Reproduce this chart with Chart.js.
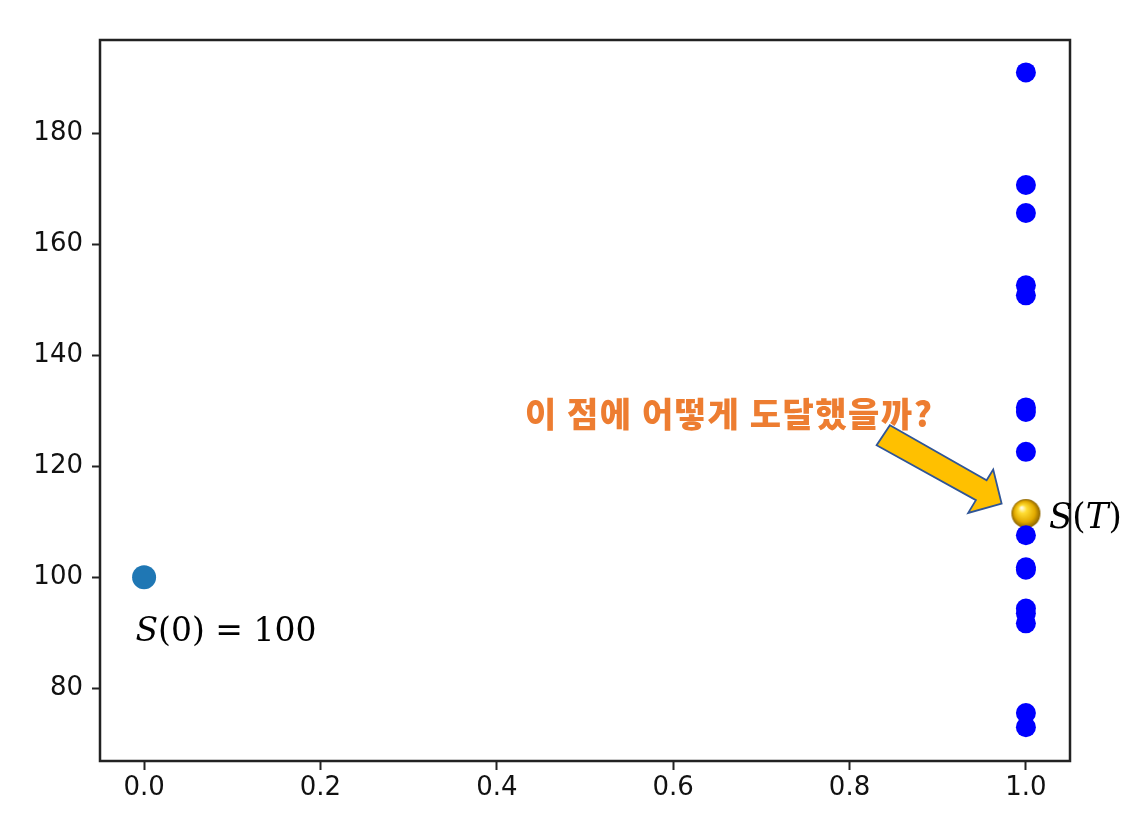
<!DOCTYPE html>
<html>
<head>
<meta charset="utf-8">
<script src="https://cdn.jsdelivr.net/npm/chart.js@4.4.1/dist/chart.umd.min.js"></script>
<style>
  body { margin: 0; background: #fff; }
  #wrap { width: 1146px; height: 821px; }
</style>
</head>
<body>
<div id="wrap"><canvas id="myChart" width="1146" height="821"></canvas></div>
<script>
// data
const startTimes = [0]
const startPrices = [100]
const endTimes = [1, 1, 1, 1, 1, 1, 1, 1, 1, 1, 1, 1, 1, 1, 1, 1]
const endPrices = [190.96, 170.68, 165.63, 152.6, 150.8, 130.6, 129.8, 122.6, 107.58, 101.81, 101.36, 94.37, 93.5, 91.7, 75.55, 73.0]
const pickedTimes = [1]
const pickedPrices = [111.49]
const xTicks = [0, 0.2, 0.4, 0.6, 0.8, 1.0]
const yTicks = [80, 100, 120, 140, 160, 180]
const question = '이 점에 어떻게 도달했을까?'

function toPoints(xs, ys) {
    return xs.map((x, i) => ({x: x, y: ys[i]}))
}

function makeSphere(r) {
    let c = document.createElement('canvas')
    c.width = c.height = r * 2 + 2
    let g = c.getContext('2d')
    let cx = r + 1, cy = r + 1
    let grad = g.createRadialGradient(cx - r * 0.3, cy - r * 0.4, r * 0.05, cx, cy, r)
    grad.addColorStop(0, '#fffbe0')
    grad.addColorStop(0.25, '#ffdd33')
    grad.addColorStop(0.7, '#e2aa00')
    grad.addColorStop(1, '#8a6200')
    g.fillStyle = grad
    g.beginPath()
    g.arc(cx, cy, r, 0, Math.PI * 2)
    g.fill()
    return c
}

// math-looking label: italic S, upright rest, fitted to a target width
function drawMath(ctx, parts, x, y, size, width) {
    ctx.save()
    let fonts = parts.map(p => (p.it ? 'italic ' : '') + size + 'px "DejaVu Serif", serif')
    let total = 0
    parts.forEach((p, i) => { ctx.font = fonts[i]; total += ctx.measureText(p.t).width })
    ctx.translate(x, y)
    ctx.scale(width / total, 1)
    ctx.fillStyle = '#000'
    ctx.textBaseline = 'alphabetic'
    ctx.textAlign = 'left'
    let cx = 0
    parts.forEach((p, i) => {
        ctx.font = fonts[i]
        ctx.fillText(p.t, cx, 0)
        cx += ctx.measureText(p.t).width
    })
    ctx.restore()
}

const annotations = {
    id: 'annotations',
    afterDatasetsDraw(chart) {
        let ctx = chart.ctx
        let a = chart.chartArea
        let xs = chart.scales.x, ys = chart.scales.y

        // frame
        ctx.save()
        ctx.strokeStyle = '#222'
        ctx.lineWidth = 2.5
        ctx.strokeRect(a.left, a.top, a.right - a.left, a.bottom - a.top)
        ctx.restore()

        let sx = xs.getPixelForValue(startTimes[0]), sy = ys.getPixelForValue(startPrices[0])
        drawMath(ctx, [{t: 'S', it: true}, {t: '(0)'}, {t: ' = '}, {t: '100'}], sx - 8.6, sy + 64, 34, 181)

        let gx = xs.getPixelForValue(pickedTimes[0]), gy = ys.getPixelForValue(pickedPrices[0])
        drawMath(ctx, [{t: 'S', it: true}, {t: '('}, {t: 'T', it: true}, {t: ')'}], gx + 23, gy + 14, 35, 73)

        // question text
        ctx.save()
        ctx.font = '900 34px "Noto Sans CJK KR", sans-serif'
        ctx.fillStyle = '#ED7D31'
        ctx.textBaseline = 'middle'
        ctx.textAlign = 'left'
        let w = ctx.measureText(question).width
        let target = 407
        ctx.letterSpacing = ((target - w) / (question.length - 1)) + 'px'
        ctx.fillText(question, gx - 501, gy - 99)
        ctx.restore()

        // block arrow pointing at the picked point
        let tx = gx - 24.3, ty = gy - 10
        let shape = [[-111.7, -78.3], [-15, -23.3], [-8.4, -34], [0, 0], [-33.4, 9.4], [-25.7, -3.3], [-125, -58.3]]
        ctx.save()
        ctx.beginPath()
        shape.forEach((p, i) => {
            if (i == 0) ctx.moveTo(tx + p[0], ty + p[1])
            else ctx.lineTo(tx + p[0], ty + p[1])
        })
        ctx.closePath()
        ctx.fillStyle = '#FFC000'
        ctx.fill()
        ctx.strokeStyle = '#2F5597'
        ctx.lineWidth = 1.8
        ctx.lineJoin = 'miter'
        ctx.stroke()
        ctx.restore()
    }
}

let tickFont = {family: '"DejaVu Sans", sans-serif', size: 26}

new Chart(document.getElementById('myChart'), {
    type: 'scatter',
    data: {
        datasets: [{
            data: toPoints(startTimes, startPrices),
            backgroundColor: '#1f77b4',
            borderWidth: 0,
            pointRadius: 12
        }, {
            data: toPoints(endTimes, endPrices),
            backgroundColor: '#0000ff',
            borderWidth: 0,
            pointRadius: 10
        }, {
            data: toPoints(pickedTimes, pickedPrices),
            pointStyle: makeSphere(14.5),
            pointRadius: 15
        }]
    },
    options: {
        responsive: false,
        animation: false,
        layout: {padding: {top: 40, right: 76, left: 0, bottom: 0}},
        plugins: {legend: {display: false}, tooltip: {enabled: false}},
        scales: {
            x: {
                type: 'linear',
                min: -0.05,
                max: 1.05,
                afterBuildTicks: scale => { scale.ticks = xTicks.map(v => ({value: v})) },
                afterFit: scale => { scale.height = 60 },
                ticks: {
                    font: tickFont,
                    color: '#111',
                    padding: 3,
                    maxRotation: 0,
                    callback: v => v.toFixed(1)
                },
                grid: {drawOnChartArea: false, drawTicks: true, tickLength: 9, tickWidth: 2, tickColor: '#222'},
                border: {display: false}
            },
            y: {
                type: 'linear',
                min: 66.9,
                max: 196.8,
                afterBuildTicks: scale => { scale.ticks = yTicks.map(v => ({value: v})) },
                afterFit: scale => { scale.width = 100 },
                ticks: {
                    font: tickFont,
                    color: '#111',
                    padding: 9,
                    callback: v => String(v)
                },
                grid: {drawOnChartArea: false, drawTicks: true, tickLength: 8, tickWidth: 2, tickColor: '#222'},
                border: {display: false}
            }
        }
    },
    plugins: [annotations]
})
</script>
</body>
</html>
